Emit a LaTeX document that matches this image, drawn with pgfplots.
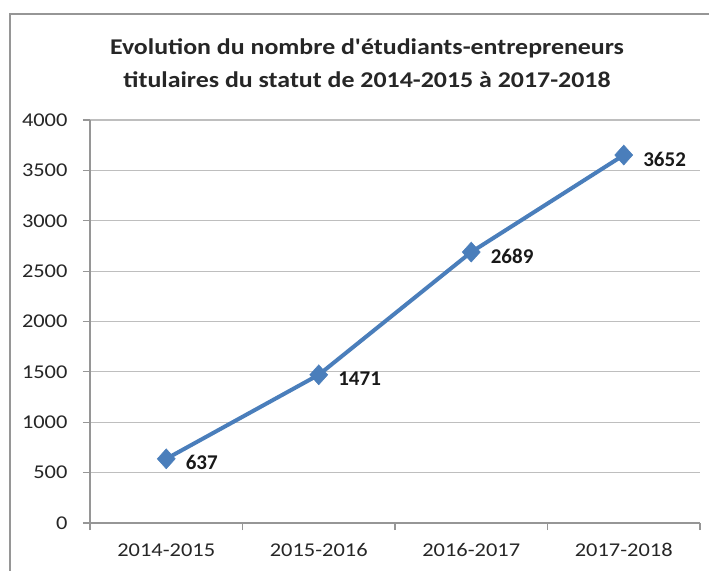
\documentclass[border=0pt]{standalone}
\usepackage{pgfplots}
\pgfplotsset{compat=1.18}
\usepackage{fontspec}
\setmainfont{Carlito}
\newfontfamily\stretchfont{Carlito}[FakeStretch=1.15]
\definecolor{serie}{RGB}{74,126,187}
\definecolor{gridc}{RGB}{190,190,190}
\definecolor{axc}{RGB}{150,150,150}
\begin{document}
\begin{tikzpicture}
\path[use as bounding box] (0pt,0pt) rectangle (709pt,570pt);
\draw[color=axc, line width=2pt] (10pt,-20pt) -- (10pt,556pt) -- (730pt,556pt);
\node[font=\stretchfont\bfseries\fontsize{22.5}{33}\selectfont, align=center, text=black!85] at (367pt,507pt) {Evolution du nombre d'étudiants-entrepreneurs\\titulaires du statut de 2014-2015 à 2017-2018};
\begin{axis}[
  at={(90pt,47pt)}, anchor=south west,
  scale only axis, width=610pt, height=403pt,
  xmin=-0.5, xmax=3.5, ymin=0, ymax=4000,
  xtick={0,1,2,3},
  xticklabels={2014-2015,2015-2016,2016-2017,2017-2018},
  minor xtick={-0.5,0.5,1.5,2.5,3.5},
  ytick={0,500,...,4000},
  axis x line*=bottom, axis y line*=left,
  axis line style={color=axc, line width=1.2pt, -},
  tick align=outside,
  x tick style={draw=none},
  minor x tick style={draw=axc, line width=1.2pt},
  minor tick length=7pt,
  y tick style={draw=axc, line width=1.2pt},
  major tick length=7pt,
  ymajorgrids, grid style={color=gridc, line width=1.2pt},
  /pgf/number format/assume math mode=true,
  /pgf/number format/1000 sep={},
  tick label style={font=\stretchfont\fontsize{19.5}{21}\selectfont, text=black!85},
  yticklabel style={xshift=-12pt},
  xticklabel style={yshift=-10pt},
  clip=false,
]
\addplot[color=serie, line width=4pt, mark=diamond*, mark size=10pt,
  mark options={fill=serie, draw=serie, line width=0.5pt, xscale=1.2},
  nodes near coords,
  every node near coord/.style={anchor=west, xshift=16pt, yshift=-4pt, font=\bfseries\fontsize{21}{22}\selectfont, text=black!90},
  point meta=explicit symbolic]
  table[meta=label] {
  x y label
  0 637 637
  1 1471 1471
  2 2689 2689
  3 3652 3652
  };
\end{axis}
\end{tikzpicture}
\end{document}
